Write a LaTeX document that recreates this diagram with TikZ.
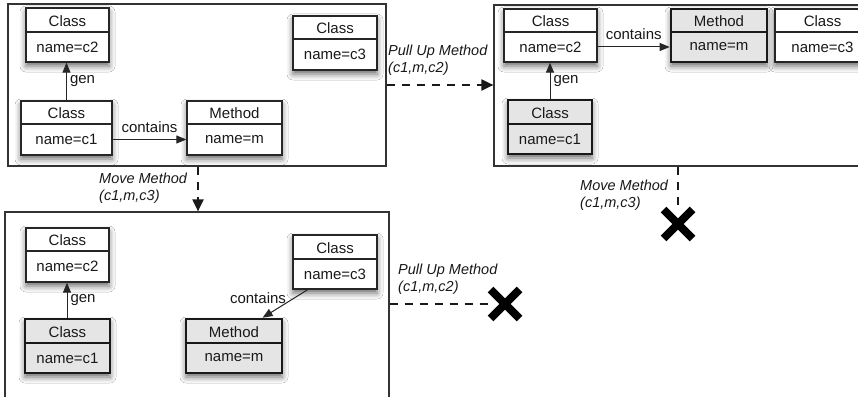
\documentclass[tikz,border=0pt]{standalone}
\usepackage{fontspec}
\setmainfont{Liberation Sans}
\usetikzlibrary{arrows.meta,shapes.misc,calc,shadows.blur}

% class/method box: name, x1, y1, x2, y2, divider y, look (white|gray), title, body
\newcommand\umlbox[9]{%
  \node[#7box, minimum width={(#4-#2)*1pt}, minimum height={(#5-#3)*1pt}]
    (#1) at ({(#2+#4)/2},{(#3+#5)/2}) {};
  \draw[#7line] (#1.west |- 0,#6) -- (#1.east |- 0,#6);
  \node[boxtext] (#1-t) at ({(#2+#4)/2},{(#3+#6)/2+1}) {#8};
  \node[boxtext] (#1-b) at ({(#2+#4)/2},{(#6+#5)/2}) {#9};
}

\tikzset{
  panel/.style={draw=black!80, line width=1.2pt, inner sep=0pt},
  boxshadow/.style={blur shadow={shadow xshift=0pt, shadow yshift=-4pt,
      shadow blur radius=6pt, shadow opacity=60}},
  whitebox/.style={draw=black!85, line width=1.3pt, fill=white, inner sep=0pt, boxshadow},
  graybox/.style={draw=black!90, line width=2.6pt, fill=black!10, inner sep=0pt, boxshadow},
  whiteline/.style={draw=black!85, line width=1.3pt},
  grayline/.style={draw=black!90, line width=2.6pt},
  boxtext/.style={inner sep=0pt, text=black!90},
  rel/.style={draw=black!85, line width=1pt, -{Triangle[length=10pt,width=8pt]}},
  rellabel/.style={inner sep=0pt, text=black!90},
  trans/.style={draw=black!90, line width=2pt, dash pattern=on 8pt off 7pt},
  transarrow/.style={trans, -{Triangle[length=12pt,width=11pt]}},
  translabel/.style={inner sep=0pt, font=\fontsize{14.5}{17.5}\selectfont\itshape,
      align=left, text=black!90},
  cross/.style={cross out, draw=black, line width=8pt, minimum size=21pt, inner sep=0pt},
}

\begin{document}
\begin{tikzpicture}[x=1pt, y=-1pt, font=\fontsize{15}{17}\selectfont]
\useasboundingbox (0,0) rectangle (858,396);
\clip (0,0) rectangle (858,396);
\fill[white] (0,0) rectangle (858,396);

% the three states
\node[panel, minimum width=378pt, minimum height=162pt] (p1) at (197,85) {};
\node[panel, minimum width=380pt, minimum height=161pt] (p2) at (684,85.5) {};
\node[panel, minimum width=384pt, minimum height=200pt] (p3) at (197,312) {};

% initial state
\umlbox{a2}{26}{8}{109}{62}{32}{white}{Class}{name=c2}
\umlbox{a1}{21}{101}{112}{155}{124}{white}{Class}{name=c1}
\umlbox{am}{187}{101}{282}{155}{124}{white}{Method}{name=m}
\umlbox{a3}{293}{16}{377}{70}{39}{white}{Class}{name=c3}
\draw[rel] (a1.north) -- (a1.north |- a2.south)
  node[rellabel, midway, right=3pt] (a-gen) {gen};
\draw[rel] (a1.east |- a1-b) -- (am.west |- a1-b)
  node[rellabel, midway, above=6pt] (a-con) {contains};

% after pull up method
\umlbox{b2}{504}{9}{597}{62}{32}{white}{Class}{name=c2}
\umlbox{bm}{671}{9}{767}{62}{32}{gray}{Method}{name=m}
\umlbox{b3}{775}{9}{870}{62}{32}{white}{Class}{name=c3}
\umlbox{b1}{508}{100}{592}{154}{124}{gray}{Class}{name=c1}
\draw[rel] (b1.north -| 550,0) -- (b2.south -| 550,0)
  node[rellabel, midway, right=3pt] (b-gen) {gen};
\draw[rel] (b2.east |- b2-b) -- (bm.west |- b2-b)
  node[rellabel, midway, above=7pt] (b-con) {contains};

% after move method
\umlbox{c2}{26}{228}{109}{282}{251}{white}{Class}{name=c2}
\umlbox{c1}{25}{319}{110}{373}{343}{gray}{Class}{name=c1}
\umlbox{cm}{186}{319}{282}{373}{343}{gray}{Method}{name=m}
\umlbox{c3}{293}{235}{377}{289}{259}{white}{Class}{name=c3}
\draw[rel] (c1.north -| 67,0) -- (c2.south -| 67,0)
  node[rellabel, midway, right=3pt] (c-gen) {gen};
\draw[rel] ($(c3.south west)!0.18!(c3.south east)$) -- ($(cm.north west)!0.79!(cm.north east)$);
\node[rellabel] (c-con) at (258,298) {contains};

% refactoring steps
\draw[transarrow] (p1.east |- 0,85) -- (p2.west |- 0,85);
\node[translabel, anchor=west] (t1) at (388,60) {Pull Up Method\\(c1,m,c2)};

\draw[transarrow] (p1.south -| 198,0) -- (p3.north -| 198,0);
\node[translabel, anchor=west] (t2) at (99,188) {Move Method\\(c1,m,c3)};

\node[cross] (x1) at (678,224) {};
\draw[trans] (p2.south -| x1) -- (x1.north);
\node[translabel, anchor=west] (t3) at (580,195) {Move Method\\(c1,m,c3)};

\node[cross] (x2) at (505,304) {};
\draw[trans] (p3.east |- x2) -- (x2.west);
\node[translabel, anchor=west] (t4) at (398,279) {Pull Up Method\\(c1,m,c2)};
\end{tikzpicture}
\end{document}
